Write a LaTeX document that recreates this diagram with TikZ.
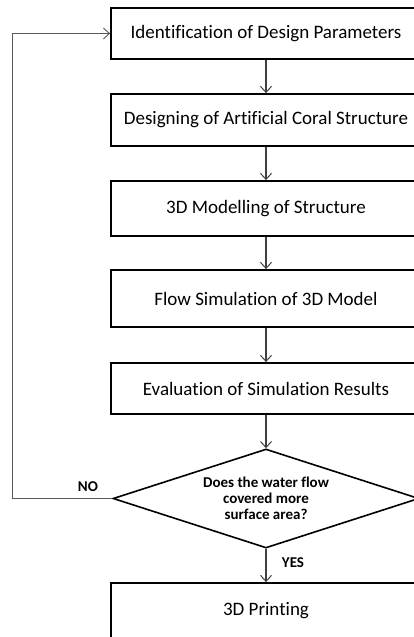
\documentclass[tikz,border=0pt]{standalone}
\usepackage{fontspec}
\setmainfont{Carlito}[Ligatures=NoCommon]
\usetikzlibrary{shapes.geometric,arrows.meta}
\tikzset{
  stepbox/.style={draw=black, line width=1.8pt, minimum width=310pt, inner sep=0pt, font=\fontsize{19}{21}\selectfont},
  decision/.style={draw=black, line width=1.6pt, diamond, minimum width=306pt, minimum height=99pt, inner sep=0pt, aspect=3.1, align=center, font=\bfseries\fontsize{15}{16}\selectfont},
  flow/.style={draw=black!75, line width=1.1pt, -{Straight Barb[length=6pt,width=11pt,line width=1pt]}},
  loopline/.style={draw=black!65, line width=0.9pt, -{Straight Barb[length=6pt,width=11pt,line width=0.9pt]}},
  answer/.style={font=\bfseries\fontsize{15}{16}\selectfont}
}
\begin{document}
\begin{tikzpicture}[x=1pt,y=-1pt]
\useasboundingbox (0,0) rectangle (414,637);
\fill[white] (0,0) rectangle (414,637);
\clip (0,0) rectangle (414,637);
\node[stepbox, minimum height=51pt] (b1) at (266,33.5) {Identification of Design Parameters};
\node[stepbox, minimum height=52pt] (b2) at (266,120) {Designing of Artificial Coral Structure};
\node[stepbox, minimum height=55pt] (b3) at (266,208.5) {3D Modelling of Structure};
\node[stepbox, minimum height=57pt] (b4) at (266,298.5) {Flow Simulation of 3D Model};
\node[stepbox, minimum height=51pt] (b5) at (266,388.5) {Evaluation of Simulation Results};
\node[decision] (d) at (266,498.5) {Does the water flow\\covered more\\surface area?};
\node[stepbox, minimum height=60pt] (b6) at (266,613) {\raisebox{8pt}{3D Printing}};
\coordinate (lb) at (12,498.5);
\draw[flow] (b1) -- (b2);
\draw[flow] (b2) -- (b3);
\draw[flow] (b3) -- (b4);
\draw[flow] (b4) -- (b5);
\draw[flow] (b5) -- (d);
\draw[flow] (d) -- (b6);
\draw[loopline] (d.west) -- (lb) |- (b1.west);
\node[answer] (no) at (88,487) {NO};
\node[answer] (yes) at (293,563) {YES};
\end{tikzpicture}
\end{document}
